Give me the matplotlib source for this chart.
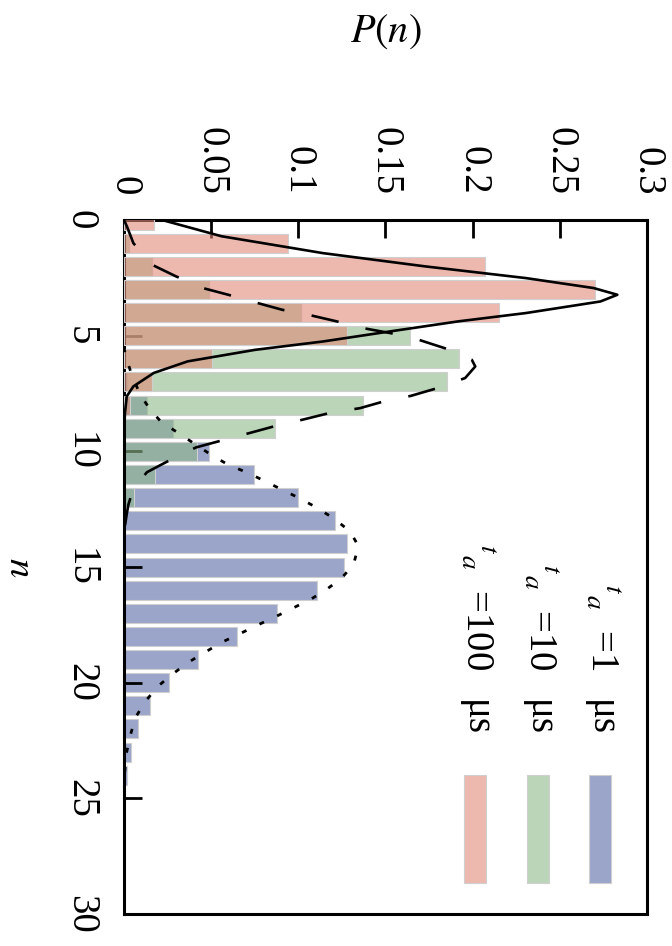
import numpy as np
import matplotlib
matplotlib.use("Agg")
import matplotlib.pyplot as plt
from matplotlib.colors import to_rgba
from matplotlib.patches import Rectangle

plt.rcParams['font.family'] = ['Liberation Serif', 'DejaVu Serif']
plt.rcParams['mathtext.fontset'] = 'stix'

# ---------------- measured histograms ----------------
# t_a = 100 us
n_100 = np.arange(0, 9)
p_100 = [0.017, 0.094, 0.207, 0.270, 0.215, 0.128, 0.0505, 0.016, 0.0035]
# t_a = 10 us
n_10 = np.arange(0, 13)
p_10 = [0.0, 0.003, 0.016, 0.0485, 0.1015, 0.164, 0.192, 0.185, 0.137,
        0.0866, 0.0419, 0.018, 0.0058]
# t_a = 1 us
n_1 = np.arange(7, 25)
p_1 = [0.002, 0.013, 0.028, 0.0485, 0.0743, 0.0996, 0.121, 0.1277, 0.1264,
       0.1106, 0.0877, 0.0646, 0.0423, 0.0258, 0.0148, 0.0083, 0.0039, 0.0015]

# ---------------- theory curves ----------------
solid_n = [-0.1, 0.7, 1.43, 2.0, 2.51, 2.94, 3.23, 3.52, 4.02, 4.38, 4.81,
           5.25, 5.61, 6.11, 6.61, 7.19, 7.62, 8.3, 9.0, 10.0]
solid_p = [0.0171, 0.0559, 0.1141, 0.1724, 0.2306, 0.2694, 0.283, 0.2733,
           0.2306, 0.1918, 0.153, 0.1141, 0.0753, 0.0365, 0.0171, 0.0054,
           0.0016, 0.0006, 0.0001, 0.0]

dash_n = [0.0, 0.26, 1.0, 1.93, 2.43, 2.94, 3.23, 3.56, 3.88, 4.1, 4.38, 4.67,
          4.89, 5.15, 5.54, 6.04, 6.33, 6.83, 7.26, 7.6, 7.84, 8.13, 8.34,
          8.63, 8.92, 9.2, 9.53, 9.83, 10.36, 10.9, 11.59, 12.31, 12.7, 13.2]
dash_p = [0.0, 0.0016, 0.0054, 0.016, 0.0297, 0.0452, 0.0598, 0.0753, 0.0908,
          0.106, 0.122, 0.137, 0.153, 0.168, 0.184, 0.1995, 0.2015, 0.1957,
          0.180, 0.1646, 0.149, 0.1355, 0.118, 0.1025, 0.086, 0.0724, 0.056,
          0.0413, 0.0268, 0.0132, 0.0054, 0.0025, 0.0016, 0.0006]

dot_n = [5.5, 5.9, 6.7, 7.55, 8.2, 8.7, 9.28, 10.15, 10.58, 10.94, 11.3, 11.66,
         12.02, 12.38, 12.88, 13.46, 14.1, 14.9, 15.48, 15.98, 16.4, 16.77,
         17.16, 17.52, 17.9, 18.26, 18.68, 19.11, 19.63, 20.16, 20.81, 21.53,
         22.32, 23.12, 24.0, 25.0]
dot_p = [0.0, 0.001, 0.0045, 0.0093, 0.0151, 0.021, 0.0326, 0.05, 0.0598,
         0.0714, 0.0811, 0.0908, 0.1005, 0.1093, 0.12, 0.1297, 0.1345, 0.1316,
         0.1248, 0.116, 0.107, 0.097, 0.0866, 0.0763, 0.066, 0.0559, 0.0466,
         0.0371, 0.0278, 0.0194, 0.0122, 0.0064, 0.0035, 0.0012, 0.0003, 0.0]

p_ticks = [0, 0.05, 0.1, 0.15, 0.2, 0.25, 0.3]
p_tick_labels = ['0', '0.05', '0.1', '0.15', '0.2', '0.25', '0.3']
n_ticks = [0, 5, 10, 15, 20, 25, 30]
n_tick_labels = ['0', '5', '10', '15', '20', '25', '30']

leg_labels = ['1', '10', '100']

c_1 = '#5869A8'
c_10 = '#8FB989'
c_100 = '#E18A78'
a = 0.6
edge = '#cfcfcf'

fig = plt.figure(figsize=(6.72, 9.46), dpi=100)
ax = fig.add_axes([0.1845, 0.0338, 0.7783, 0.7336])

ax.barh(n_1, p_1, height=0.82, color=to_rgba(c_1, a), edgecolor=edge, linewidth=0.8, zorder=1)
ax.barh(n_10, p_10, height=0.82, color=to_rgba(c_10, a), edgecolor=edge, linewidth=0.8, zorder=2)
ax.barh(n_100, p_100, height=0.82, color=to_rgba(c_100, a), edgecolor=edge, linewidth=0.8, zorder=3)

ax.plot(solid_p, solid_n, color='black', lw=1.9, zorder=5)
ax.plot(dash_p, dash_n, color='black', lw=1.9, dashes=(10.5, 10.5), zorder=5)
ax.plot(dot_p, dot_n, color='black', lw=2.0, dashes=(1.8, 5.2), zorder=5)

ax.set_xlim(0, 0.3)
ax.set_ylim(30, 0)
ax.xaxis.tick_top()
ax.set_xticks(p_ticks)
ax.set_xticklabels(p_tick_labels, rotation=-90)
ax.set_yticks(n_ticks)
ax.set_yticklabels(n_tick_labels, rotation=-90, va='center')
ax.tick_params(direction='in', length=13, width=2, pad=18, labelsize=28,
               top=True, bottom=False, left=True, right=False)
for s in ax.spines.values():
    s.set_linewidth(2.2)

ax.set_xlabel('$P(n)$', fontsize=29)
ax.xaxis.set_label_position('top')
ax.xaxis.set_label_coords(0.5, 1.271)
ax.xaxis.label.set_va('center')
ax.set_ylabel('$n$', fontsize=28, rotation=-90)
ax.yaxis.set_label_coords(-0.199, 0.5)
ax.yaxis.label.set_va('center')
ax.yaxis.label.set_ha('center')

# legend drawn by hand (rotated)
for lab, col, x0 in zip(leg_labels, [c_1, c_10, c_100], [0.889, 0.7706, 0.650]):
    ax.add_patch(Rectangle((x0, 0.0447), 0.042, 0.1556, transform=ax.transAxes,
                           facecolor=to_rgba(col, a), edgecolor=edge, lw=0.8, zorder=6))
    ax.text(x0 + 0.0035, 0.3516, r'${}^{t}{}_{a}$  =' + lab, rotation=-90,
            rotation_mode='anchor', ha='right', va='baseline',
            transform=ax.transAxes, fontsize=28)
    ax.text(x0 + 0.0035, 0.3084, 'μs', rotation=-90, rotation_mode='anchor',
            ha='left', va='baseline', transform=ax.transAxes, fontsize=28)

fig.savefig('out.png', dpi=100)
